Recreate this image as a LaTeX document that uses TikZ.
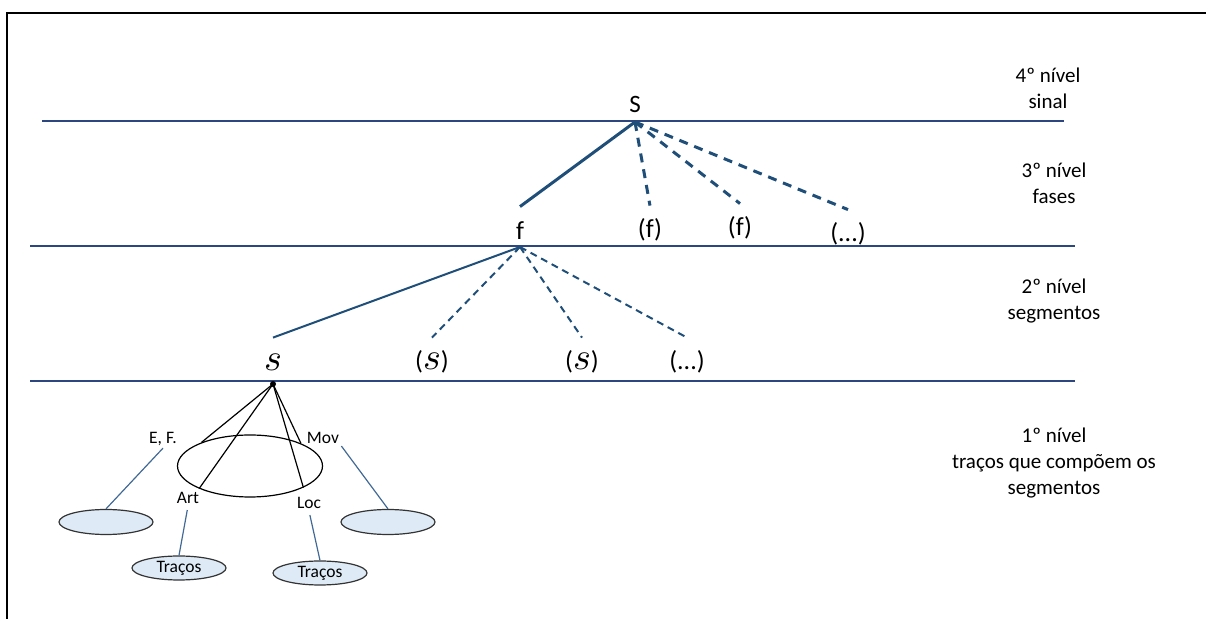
\documentclass[tikz,border=0pt]{standalone}
\usepackage{fontspec}
\usepackage{unicode-math}
\setmainfont{Carlito}
\usetikzlibrary{shapes.geometric}

\definecolor{rulecol}{RGB}{44,70,128}
\definecolor{linkcol}{RGB}{31,78,121}
\definecolor{thincol}{RGB}{65,105,150}
\definecolor{bubblefill}{RGB}{222,235,247}

\newcommand{\segs}{{\fontsize{19}{19}\selectfont$\mathscr{s}$}}

\tikzset{
  lvlrule/.style={rulecol, line width=0.75pt},
  treetxt/.style={font=\fontsize{13}{15}\selectfont, inner sep=0pt, minimum height=24pt},
  toptxt/.style={font=\fontsize{12.5}{15}\selectfont, inner sep=0pt, minimum height=18pt},
  link/.style={linkcol, line width=1.5pt},
  sublink/.style={linkcol, line width=1pt},
  featlink/.style={thincol, line width=0.6pt},
  feat/.style={font=\fontsize{8.75}{10}\selectfont, inner sep=1pt},
  bubble/.style={draw=black!80, fill=bubblefill, ellipse, line width=0.6pt, inner sep=0pt,
    minimum width=47pt, minimum height=12.5pt, font=\fontsize{8.75}{10}\selectfont},
  lvllbl/.style={font=\fontsize{10.5}{13}\selectfont, align=center},
  dotnode/.style={circle, fill=black, inner sep=0pt, minimum size=3pt}
}

\begin{document}
\begin{tikzpicture}[x=0.5pt,y=-0.5pt]
  \useasboundingbox (0,0) rectangle (1206,619);
  % frame
  \draw[line width=1pt] (7,619) -- (7,13) -- (1206,13);

  % level rules
  \draw[lvlrule] (42,121) -- (1064,121);
  \draw[lvlrule] (30,246) -- (1075,246);
  \draw[lvlrule] (30,381) -- (1075,381);

  % sinal
  \node[toptxt] (S) at (635,104) {S};
  \coordinate (Sbase) at (635,122);

  % fases
  \node[treetxt] (f)  at (520,231) {f};
  \node[treetxt] (f1) at (650,230) {(f)};
  \node[treetxt] (f2) at (740,228) {(f)};
  \node[treetxt] (f3) at (848,234) {(...)};
  \coordinate (fbase) at (520,247);
  \draw[link] (Sbase) -- (f.north);
  \foreach \n in {f1,f2,f3}
    \draw[link, dash pattern=on 4.5pt off 3.5pt] (Sbase) -- (\n.north);

  % segmentos
  \node[treetxt] (s)  at (273,362) {\segs};
  \node[treetxt] (s1) at (432,362) {(\segs)};
  \node[treetxt] (s2) at (582,362) {(\segs)};
  \node[treetxt] (s3) at (687,362) {(...)};
  \draw[sublink] (fbase) -- (s.north);
  \foreach \n in {s1,s2,s3}
    \draw[sublink, dash pattern=on 3.5pt off 2.5pt] (fbase) -- (\n.north);

  % tracos
  \node[dotnode] (sdot) at (273,384) {};
  \node[draw, ellipse, line width=0.6pt, inner sep=0pt,
        minimum width=72.5pt, minimum height=31pt] (seg) at (250,466) {};
  \foreach \a in {154,204,338,24}
    \draw[line width=0.6pt] (sdot.center) -- (seg.\a);

  \node[feat] (ef)  at (163,439) {E, F.};
  \node[feat] (mov) at (323,438) {Mov};
  \node[feat] (art) at (188,498) {Art};
  \node[feat] (loc) at (309,503) {Loc};

  \node[bubble] (efb)  at (106,522) {};
  \node[bubble] (movb) at (388,522) {};
  \node[bubble, minimum height=12pt] (artb) at (179,568) {Traços};
  \node[bubble, minimum height=12pt] (locb) at (320,573) {Traços};

  \draw[featlink] (ef.south) -- (efb.north);
  \draw[featlink] (mov.south east) -- (movb.north);
  \draw[featlink, shorten <=2pt] (art.south) -- (artb.north);
  \draw[featlink, shorten <=2pt] (loc.south) -- (locb.north);

  % niveis
  \node[lvllbl] (n4) at (1048,88)  {4º nível\\sinal};
  \node[lvllbl] (n3) at (1054,183) {3º nível\\fases};
  \node[lvllbl] (n2) at (1054,301) {2º nível\\segmentos};
  \node[lvllbl] (n1) at (1054,463) {1º nível\\traços que compõem os\\segmentos};
\end{tikzpicture}
\end{document}
